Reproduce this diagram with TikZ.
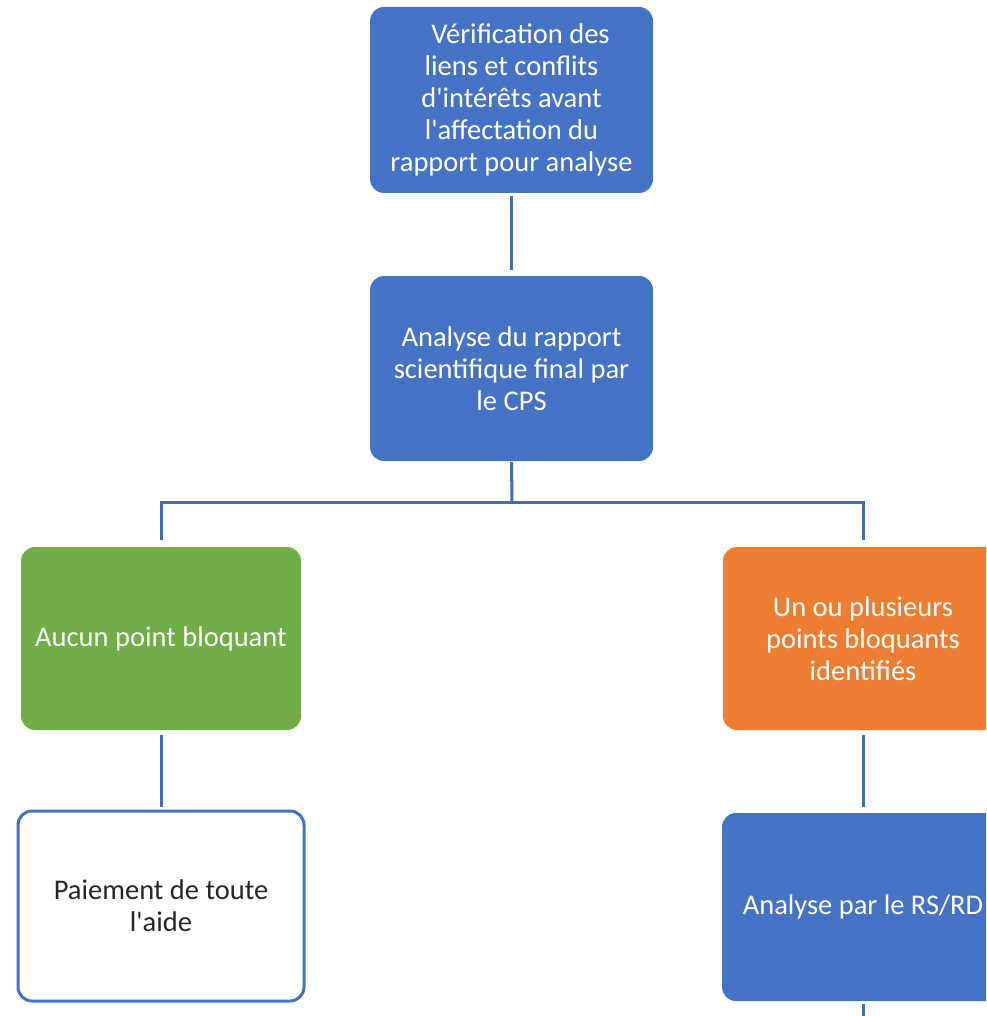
\documentclass[tikz,border=0pt]{standalone}
\usepackage{fontspec}
\setmainfont{Carlito}
\definecolor{cblue}{RGB}{68,114,196}
\definecolor{cgreen}{RGB}{112,173,71}
\definecolor{corange}{RGB}{237,125,49}
\definecolor{cline}{RGB}{66,106,182}
\newcommand{\sq}{\textquotesingle}
\tikzset{
  box/.style={rectangle, rounded corners=14pt, inner sep=0pt, align=center,
    font=\fontsize{28.5}{32}\selectfont, text=white},
  bluebox/.style={box, fill=cblue},
  greenbox/.style={box, fill=cgreen},
  orangebox/.style={box, fill=corange},
  whitebox/.style={box, fill=white, draw=cblue, line width=3pt, text=black!85},
  conn/.style={draw=cline, line width=3pt}
}
\begin{document}
\begin{tikzpicture}[x=1pt,y=-1pt]
\useasboundingbox (0,0) rectangle (986,1016);
\clip (0,0) rectangle (986,1016);
\node[bluebox, minimum width=283pt, minimum height=186pt] (verif) at (511.5,100)
  {\hspace*{18pt}Vérification des\\liens et conflits\\d\sq intérêts avant\\l\sq affectation du\\rapport pour analyse};
\node[bluebox, minimum width=283pt, minimum height=185pt] (analyse) at (511.5,368.5)
  {Analyse du rapport\\scientifique final par\\le CPS};
\node[greenbox, minimum width=280pt, minimum height=183pt] (aucun) at (161,638.5)
  {Aucun point bloquant};
\node[orangebox, minimum width=280pt, minimum height=183pt] (points) at (863,638.5)
  {Un ou plusieurs\\points bloquants\\identifiés};
\node[whitebox, minimum width=286pt, minimum height=190pt] (paiement) at (161,906)
  {Paiement de toute\\l\sq aide};
\node[bluebox, minimum width=282pt, minimum height=188pt] (rsrd) at (863,907)
  {Analyse par le RS/RD};
\coordinate (fork) at (512,502);
\coordinate (bottomend) at (863,1030);
\draw[conn, shorten <=3pt, shorten >=6pt] (verif.south) -- (analyse.north);
\draw[conn, shorten <=1pt] (analyse.south) -- (fork);
\draw[conn, shorten >=7pt] (fork) -| (aucun.north);
\draw[conn, shorten >=7pt] (fork) -| (points.north);
\draw[conn, shorten <=5pt, shorten >=3pt] (aucun.south) -- (paiement.north);
\draw[conn, shorten <=5pt, shorten >=6pt] (points.south) -- (rsrd.north);
\draw[conn, shorten <=3pt] (rsrd.south) -- (bottomend);
\end{tikzpicture}
\end{document}
